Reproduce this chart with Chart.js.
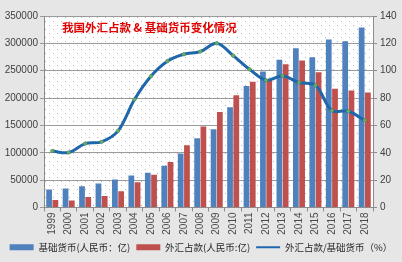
<!DOCTYPE html>
<html>
<head>
<meta charset="utf-8">
<script src="https://cdn.jsdelivr.net/npm/chart.js@4"></script>
<style>
  html, body { margin: 0; padding: 0; background: #e6e6e6; }
  #wrap { width: 402px; height: 262px; }
</style>
</head>
<body>
<div id="wrap"><canvas id="chart" width="402" height="262"></canvas></div>
<script>
    'use strict';

    // data
    var years = ['1999', '2000', '2001', '2002', '2003', '2004', '2005', '2006', '2007', '2008',
                 '2009', '2010', '2011', '2012', '2013', '2014', '2015', '2016', '2017', '2018'];
    var baseMoney = [32800, 34600, 38900, 43900, 51300, 58700, 63500, 76300, 98700, 126500,
                     143000, 183000, 222000, 248500, 270000, 291000, 274700, 307000, 304000, 329000];
    var fxFunds = [13500, 13000, 19000, 21000, 29600, 46300, 60000, 83300, 114000, 148000,
                   174700, 205000, 230000, 233000, 262000, 268500, 247000, 217000, 214000, 210000];
    var fxRatio = [41.3, 40.2, 46.7, 48, 56, 79, 96, 107, 112, 114,
                   120, 111, 101, 93, 96.3, 91.3, 89.4, 70.9, 70.4, 63.7];
    var leftTicks = [0, 50000, 100000, 150000, 200000, 250000, 300000, 350000];
    var rightTicks = [0, 20, 40, 60, 80, 100, 120, 140];

    var titleText = '我国外汇占款 & 基础货币变化情况';
    var cjk = '"Noto Sans CJK SC", sans-serif';
    var latin = '"Liberation Sans", Arial, sans-serif';

    function dotPattern(ctx) {
        var c = document.createElement('canvas');
        c.width = 8; c.height = 8;
        var p = c.getContext('2d');
        p.fillStyle = '#ffffff';
        p.fillRect(0, 0, 8, 8);
        p.fillStyle = '#b4b4b4';
        p.fillRect(1, 1, 1, 1);
        p.fillRect(5, 5, 1, 1);
        return ctx.createPattern(c, 'repeat');
    }

    var plotBackground = {
        id: 'plotBackground',
        beforeDraw: function(chart) {
            var ctx = chart.ctx, a = chart.chartArea;
            ctx.save();
            ctx.fillStyle = '#e6e6e6';
            ctx.fillRect(0, 0, chart.width, chart.height);
            ctx.fillStyle = dotPattern(ctx);
            ctx.fillRect(a.left, a.top, a.right - a.left, a.bottom - a.top);
            ctx.restore();
        },
        afterDatasetsDraw: function(chart) {
            var ctx = chart.ctx, a = chart.chartArea;
            ctx.save();
            ctx.font = 'bold 11.5px ' + cjk;
            ctx.fillStyle = '#e00000';
            ctx.textBaseline = 'middle';
            ctx.fillText(titleText, a.left + 18, a.top + 12);
            ctx.restore();
        }
    };

    function fixed(ticks) {
        return function(scale) {
            scale.ticks = ticks.map(function(v) { return { value: v }; });
        };
    }

    var ctx = document.getElementById('chart');
    var chart = new Chart(ctx, {
        data: {
            labels: years,
            datasets: [
                {
                    type: 'line',
                    label: '外汇占款/基础货币（%）',
                    data: fxRatio,
                    yAxisID: 'y1',
                    borderColor: '#1f67ad',
                    borderWidth: 3,
                    tension: 0.35,
                    pointRadius: 1.8,
                    pointBackgroundColor: '#6fae5a',
                    pointBorderColor: '#3f8a6a',
                    pointBorderWidth: 0.5,
                    order: 0
                },
                {
                    type: 'bar',
                    label: '基础货币(人民币：亿)',
                    data: baseMoney,
                    yAxisID: 'y',
                    backgroundColor: '#4f81bd',
                    categoryPercentage: 0.76,
                    barPercentage: 0.92,
                    order: 1
                },
                {
                    type: 'bar',
                    label: '外汇占款(人民币:亿)',
                    data: fxFunds,
                    yAxisID: 'y',
                    backgroundColor: '#c0504d',
                    categoryPercentage: 0.76,
                    barPercentage: 0.92,
                    order: 1
                }
            ]
        },
        options: {
            responsive: false,
            animation: false,
            layout: { padding: { top: 16, left: 0, right: 0, bottom: 0 } },
            scales: {
                x: {
                    offset: true,
                    afterFit: function(s) { s.height = 29; },
                    grid: { offset: true, drawOnChartArea: false, color: '#8c8c8c', tickLength: 4 },
                    border: { color: '#8c8c8c' },
                    ticks: {
                        minRotation: 90, maxRotation: 90, padding: 1,
                        color: '#4a4a4a', font: { family: latin, size: 10 }
                    }
                },
                y: {
                    position: 'left',
                    min: 0, max: 350000,
                    afterBuildTicks: fixed(leftTicks),
                    afterFit: function(s) { s.width = 44; },
                    grid: { color: '#9a9a9a', tickLength: 4 },
                    border: { color: '#8c8c8c' },
                    ticks: {
                        color: '#404040', padding: 2, font: { family: latin, size: 10 },
                        callback: function(v) { return String(v); }
                    }
                },
                y1: {
                    position: 'right',
                    min: 0, max: 140,
                    afterBuildTicks: fixed(rightTicks),
                    afterFit: function(s) { s.width = 29; },
                    grid: { drawOnChartArea: false, color: '#8c8c8c', tickLength: 4 },
                    border: { color: '#8c8c8c' },
                    ticks: { color: '#404040', padding: 3, font: { family: latin, size: 10 } }
                }
            },
            plugins: {
                title: { display: false },
                tooltip: { enabled: false },
                legend: {
                    position: 'bottom',
                    labels: {
                        usePointStyle: true,
                        pointStyleWidth: 24,
                        boxHeight: 6,
                        padding: 6,
                        color: '#262626',
                        font: { family: cjk, size: 9.5 },
                        sort: function(a, b) { return [1, 2, 0].indexOf(a.datasetIndex) - [1, 2, 0].indexOf(b.datasetIndex); },
                        generateLabels: function(chart) {
                            var items = Chart.defaults.plugins.legend.labels.generateLabels(chart);
                            items.forEach(function(it) {
                                if (it.datasetIndex === 0) {
                                    it.pointStyle = 'line';
                                    it.strokeStyle = '#1f67ad';
                                    it.lineWidth = 2;
                                } else {
                                    it.pointStyle = 'rect';
                                    it.lineWidth = 0;
                                }
                            });
                            return items;
                        }
                    }
                }
            }
        },
        plugins: [plotBackground]
    });
</script>
</body>
</html>
